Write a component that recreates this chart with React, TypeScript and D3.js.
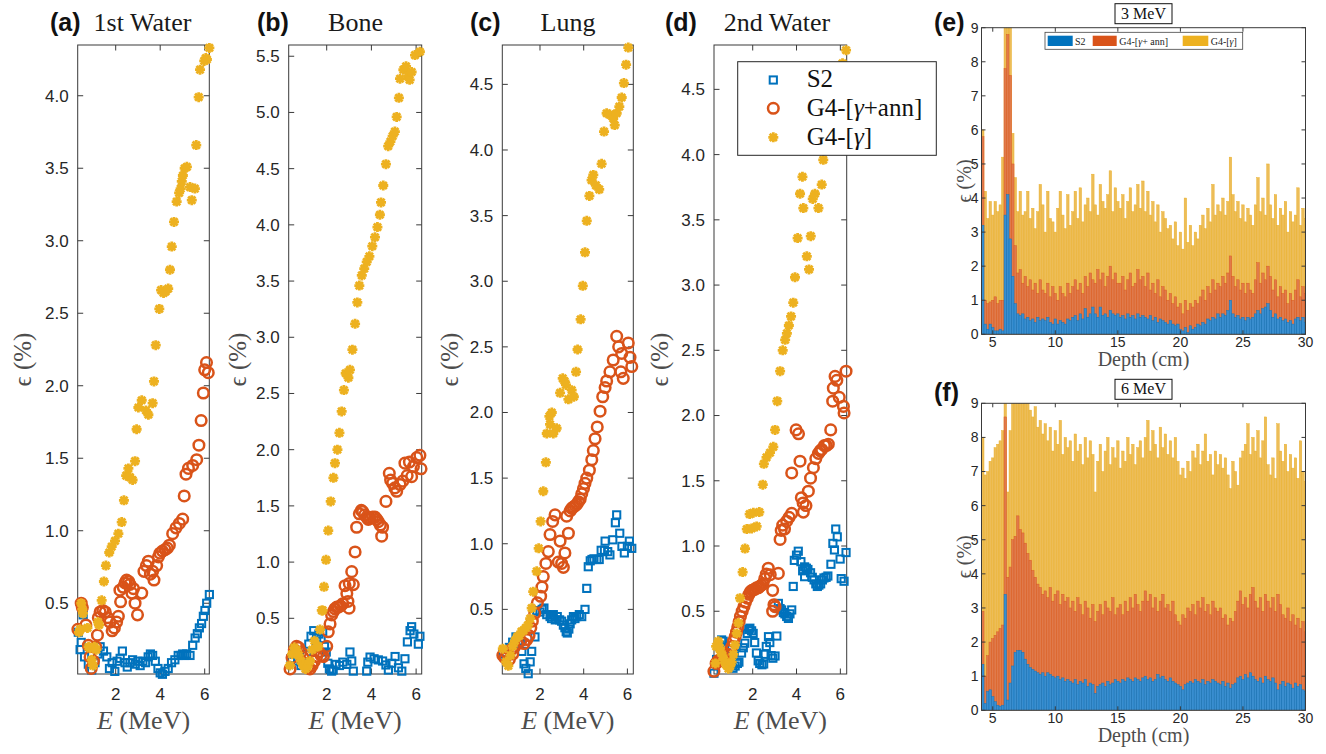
import React from 'react';
import * as d3 from 'd3';

type Pt = [number, number];

// ---------------- scatter data: [E (MeV), epsilon (%)] ----------------
const A_S2: Pt[] = [[0.32,0.30],[0.40,0.18],[0.45,0.23],[0.54,0.42],[0.6,0.13],[0.77,0.08],[0.92,0.04],[1.07,0.09],[1.2,0.15],[1.3,0.20],[1.45,0.17],[1.6,0.13],[1.72,0.05],[1.84,0.09],[1.96,0.03],[2.06,0.10],[2.2,0.12],[2.3,0.17],[2.42,0.09],[2.52,0.06],[2.64,0.09],[2.76,0.11],[2.88,0.08],[3.0,0.10],[3.1,0.07],[3.22,0.10],[3.34,0.09],[3.46,0.13],[3.56,0.15],[3.66,0.14],[3.78,0.10],[3.9,0.05],[4.0,0.02],[4.1,0.01],[4.22,0.03],[4.36,0.05],[4.51,0.09],[4.66,0.11],[4.81,0.14],[4.93,0.14],[5.01,0.15],[5.1,0.14],[5.19,0.15],[5.34,0.14],[5.46,0.21],[5.57,0.26],[5.67,0.29],[5.76,0.33],[5.86,0.36],[5.94,0.41],[6.01,0.45],[6.09,0.50],[6.21,0.56]];
const A_ANN: Pt[] = [[0.30,0.32],[0.45,0.50],[0.50,0.47],[0.66,0.35],[0.77,0.21],[0.85,0.13],[0.90,0.05],[1.0,0.10],[1.1,0.20],[1.18,0.28],[1.22,0.40],[1.3,0.44],[1.42,0.45],[1.53,0.44],[1.64,0.40],[1.74,0.37],[1.84,0.31],[1.94,0.33],[2.04,0.37],[2.12,0.41],[2.22,0.51],[2.19,0.59],[2.34,0.61],[2.42,0.64],[2.49,0.66],[2.58,0.65],[2.64,0.63],[2.73,0.57],[2.80,0.60],[2.87,0.50],[2.98,0.42],[3.17,0.57],[3.27,0.72],[3.38,0.76],[3.47,0.79],[3.56,0.70],[3.66,0.72],[3.72,0.66],[3.84,0.76],[3.92,0.82],[3.99,0.845],[4.1,0.86],[4.22,0.87],[4.32,0.88],[4.41,0.90],[4.56,0.98],[4.71,1.02],[4.86,1.05],[5.01,1.08],[5.08,1.24],[5.16,1.39],[5.27,1.43],[5.46,1.45],[5.64,1.49],[5.74,1.59],[5.84,1.76],[5.94,1.95],[6.0,2.11],[6.08,2.16],[6.16,2.09]];
const A_G: Pt[] = [[0.35,0.30],[0.40,0.32],[0.45,0.50],[0.50,0.46],[0.53,0.43],[0.73,0.33],[0.78,0.20],[0.85,0.19],[0.92,0.11],[0.98,0.07],[1.04,0.20],[1.13,0.18],[1.2,0.37],[1.25,0.35],[1.37,0.52],[1.47,0.65],[1.56,0.76],[1.71,0.85],[1.82,0.89],[1.97,0.93],[2.12,0.98],[2.27,1.06],[2.37,1.21],[2.47,1.38],[2.57,1.43],[2.64,1.37],[2.76,1.35],[2.87,1.48],[2.94,1.70],[3.02,1.85],[3.17,1.90],[3.36,1.83],[3.47,1.80],[3.66,1.88],[3.72,2.03],[3.80,2.28],[3.96,2.53],[4.04,2.66],[4.15,2.64],[4.25,2.65],[4.36,2.67],[4.44,2.80],[4.52,2.96],[4.62,3.13],[4.74,3.27],[4.85,3.33],[4.92,3.36],[4.97,3.41],[5.02,3.45],[5.1,3.50],[5.2,3.51],[5.34,3.37],[5.42,3.28],[5.56,3.36],[5.62,3.66],[5.73,3.99],[5.79,4.18],[5.98,4.24],[6.05,4.26],[6.1,4.25],[6.21,4.33]];

const B_S2: Pt[] = [[0.4,0.14],[0.55,0.18],[0.7,0.12],[0.85,0.08],[1.0,0.1],[1.1,0.18],[1.2,0.27],[1.3,0.34],[1.42,0.39],[1.55,0.33],[1.65,0.36],[1.75,0.32],[1.82,0.38],[1.9,0.25],[1.98,0.2],[2.05,0.1],[2.12,0.05],[2.22,0.03],[2.29,0.04],[2.42,0.09],[2.57,0.08],[2.72,0.11],[2.9,0.09],[3.04,0.20],[3.12,0.12],[3.19,0.03],[3.79,0.03],[3.84,0.11],[3.94,0.155],[4.12,0.14],[4.31,0.13],[4.5,0.12],[4.65,0.085],[4.76,0.04],[4.91,0.10],[5.06,0.16],[5.21,0.06],[5.36,0.03],[5.5,0.14],[5.61,0.29],[5.73,0.39],[5.80,0.425],[5.9,0.36],[6.1,0.27],[6.17,0.34]];
const B_ANN: Pt[] = [[0.36,0.05],[0.45,0.15],[0.55,0.22],[0.65,0.25],[0.75,0.24],[0.85,0.2],[0.95,0.15],[1.05,0.1],[1.15,0.06],[1.25,0.05],[1.35,0.08],[1.45,0.12],[1.55,0.16],[1.65,0.2],[1.75,0.17],[1.85,0.16],[2.0,0.25],[2.07,0.38],[2.15,0.45],[2.22,0.53],[2.3,0.56],[2.37,0.585],[2.45,0.6],[2.52,0.60],[2.62,0.61],[2.72,0.63],[2.82,0.79],[2.9,0.72],[2.95,0.65],[3.0,0.59],[3.01,0.81],[3.12,0.915],[3.19,0.80],[3.27,1.09],[3.34,1.31],[3.46,1.43],[3.55,1.46],[3.61,1.45],[3.7,1.42],[3.79,1.40],[3.86,1.38],[3.94,1.39],[4.05,1.40],[4.16,1.40],[4.24,1.38],[4.31,1.36],[4.4,1.33],[4.46,1.23],[4.5,1.31],[4.65,1.54],[4.8,1.79],[4.86,1.73],[4.95,1.70],[5.05,1.66],[5.13,1.63],[5.28,1.69],[5.4,1.72],[5.5,1.88],[5.6,1.77],[5.7,1.89],[5.80,1.76],[5.88,1.85],[6.03,1.93],[6.17,1.95],[6.22,1.83]];
const B_G: Pt[] = [[0.35,0.08],[0.45,0.18],[0.55,0.24],[0.65,0.22],[0.75,0.17],[0.85,0.12],[0.95,0.08],[1.05,0.05],[1.15,0.07],[1.25,0.12],[1.35,0.22],[1.45,0.30],[1.55,0.25],[1.62,0.25],[1.70,0.40],[1.78,0.57],[1.82,0.57],[1.88,0.78],[1.97,1.02],[2.07,1.28],[2.18,1.54],[2.30,1.75],[2.37,1.88],[2.48,2.0],[2.57,2.15],[2.67,2.34],[2.77,2.53],[2.85,2.68],[2.97,2.64],[3.04,2.71],[3.15,2.89],[3.27,3.12],[3.37,3.31],[3.46,3.46],[3.57,3.55],[3.68,3.61],[3.79,3.67],[3.91,3.72],[4.04,3.81],[4.16,3.89],[4.27,3.98],[4.38,4.09],[4.43,4.20],[4.53,4.35],[4.65,4.54],[4.75,4.70],[4.85,4.74],[4.95,4.79],[5.05,4.83],[5.13,4.96],[5.23,5.13],[5.28,5.30],[5.43,5.38],[5.55,5.41],[5.65,5.32],[5.71,5.29],[5.8,5.36],[5.95,5.51],[6.17,5.54]];

const C_S2: Pt[] = [[0.3,0.16],[0.45,0.17],[0.6,0.21],[0.75,0.25],[0.9,0.29],[1.0,0.24],[1.1,0.26],[1.17,0.18],[1.27,0.085],[1.35,0.05],[1.46,0.01],[1.55,0.10],[1.62,0.18],[1.77,0.29],[1.85,0.49],[2.0,0.48],[2.1,0.50],[2.18,0.51],[2.31,0.46],[2.46,0.445],[2.53,0.43],[2.61,0.46],[2.70,0.42],[2.79,0.445],[2.9,0.42],[2.99,0.41],[3.07,0.38],[3.14,0.36],[3.2,0.33],[3.25,0.32],[3.32,0.35],[3.38,0.39],[3.45,0.42],[3.53,0.445],[3.6,0.43],[3.68,0.445],[3.8,0.46],[3.91,0.445],[4.06,0.50],[4.14,0.66],[4.21,0.825],[4.3,0.87],[4.38,0.88],[4.47,0.885],[4.6,0.88],[4.71,0.88],[4.8,0.95],[4.95,0.95],[4.98,1.02],[5.1,0.94],[5.2,0.915],[5.33,1.03],[5.45,1.16],[5.51,1.22],[5.65,1.08],[5.75,0.98],[5.86,0.93],[6.0,0.98],[6.09,1.02],[6.2,0.965]];
const C_ANN: Pt[] = [[0.3,0.15],[0.4,0.13],[0.51,0.16],[0.6,0.12],[0.66,0.19],[0.75,0.16],[0.82,0.21],[0.97,0.24],[1.12,0.26],[1.27,0.24],[1.4,0.27],[1.5,0.30],[1.58,0.36],[1.65,0.41],[1.76,0.47],[1.88,0.55],[2.03,0.60],[2.09,0.67],[2.15,0.75],[2.27,0.85],[2.38,0.94],[2.46,1.07],[2.58,1.17],[2.69,1.22],[2.84,0.86],[2.92,1.02],[2.99,0.85],[3.07,0.82],[3.14,0.93],[3.22,1.21],[3.30,1.08],[3.38,1.25],[3.45,1.27],[3.53,1.28],[3.61,1.29],[3.68,1.30],[3.76,1.32],[3.84,1.34],[3.91,1.38],[3.99,1.42],[4.06,1.46],[4.14,1.50],[4.26,1.56],[4.37,1.64],[4.44,1.71],[4.52,1.80],[4.62,1.89],[4.75,2.01],[4.87,2.12],[4.98,2.19],[5.05,2.24],[5.2,2.31],[5.35,2.40],[5.51,2.58],[5.6,2.50],[5.7,2.31],[5.74,2.45],[5.81,2.26],[6.04,2.53],[6.12,2.42],[6.2,2.35]];
const C_G: Pt[] = [[0.3,0.20],[0.45,0.10],[0.55,0.07],[0.65,0.15],[0.75,0.22],[0.85,0.26],[0.95,0.29],[1.05,0.30],[1.15,0.33],[1.25,0.34],[1.35,0.36],[1.45,0.38],[1.55,0.43],[1.62,0.51],[1.69,0.635],[1.85,0.79],[1.94,0.965],[2.03,1.17],[2.15,1.40],[2.27,1.62],[2.31,1.84],[2.43,1.97],[2.46,1.91],[2.54,2.0],[2.61,1.84],[2.76,1.88],[2.92,2.15],[3.04,2.26],[3.12,2.24],[3.19,2.21],[3.30,2.10],[3.45,2.17],[3.55,2.12],[3.65,2.31],[3.72,2.48],[3.86,2.71],[3.96,2.965],[4.06,3.22],[4.14,3.46],[4.26,3.65],[4.36,3.77],[4.44,3.81],[4.56,3.73],[4.71,3.70],[4.82,3.895],[4.93,4.14],[5.05,4.28],[5.2,4.27],[5.35,4.24],[5.42,4.19],[5.51,4.28],[5.63,4.33],[5.74,4.40],[5.84,4.51],[5.94,4.65],[6.04,4.78]];

const D_S2: Pt[] = [[0.23,0.025],[0.35,0.13],[0.5,0.24],[0.58,0.28],[0.65,0.27],[0.72,0.22],[0.8,0.18],[0.88,0.15],[0.95,0.13],[1.02,0.09],[1.1,0.063],[1.2,0.08],[1.3,0.10],[1.37,0.11],[1.49,0.18],[1.57,0.22],[1.64,0.255],[1.75,0.33],[1.82,0.36],[1.87,0.37],[1.95,0.35],[2.02,0.33],[2.09,0.26],[2.17,0.18],[2.25,0.12],[2.32,0.10],[2.42,0.09],[2.5,0.096],[2.57,0.17],[2.62,0.23],[2.72,0.305],[2.78,0.26],[2.84,0.16],[2.92,0.14],[3.02,0.157],[3.1,0.31],[3.17,0.56],[3.25,0.52],[3.32,0.51],[3.4,0.49],[3.47,0.48],[3.55,0.46],[3.63,0.445],[3.7,0.48],[3.78,0.51],[3.85,0.69],[3.9,0.89],[4.0,0.93],[4.08,0.96],[4.2,0.88],[4.28,0.81],[4.37,0.765],[4.37,0.84],[4.45,0.83],[4.52,0.82],[4.64,0.795],[4.72,0.76],[4.8,0.74],[4.88,0.71],[4.95,0.69],[5.02,0.70],[5.1,0.71],[5.18,0.74],[5.25,0.755],[5.35,0.76],[5.43,0.77],[5.57,0.86],[5.66,1.02],[5.73,0.97],[5.79,1.13],[5.86,1.07],[5.99,0.90],[6.04,0.75],[6.17,0.73],[6.26,0.95]];
const D_ANN: Pt[] = [[0.23,0.04],[0.33,0.10],[0.41,0.12],[0.49,0.126],[0.58,0.14],[0.67,0.15],[0.76,0.16],[0.85,0.17],[0.95,0.20],[1.05,0.23],[1.12,0.27],[1.2,0.305],[1.26,0.34],[1.32,0.38],[1.38,0.42],[1.44,0.46],[1.52,0.50],[1.60,0.535],[1.67,0.57],[1.75,0.60],[1.83,0.63],[1.90,0.65],[1.97,0.66],[2.05,0.665],[2.11,0.67],[2.17,0.68],[2.25,0.68],[2.32,0.69],[2.40,0.70],[2.47,0.71],[2.55,0.75],[2.62,0.785],[2.71,0.83],[2.80,0.78],[2.91,0.66],[2.91,0.50],[2.97,0.55],[3.02,0.535],[3.17,0.79],[3.25,1.05],[3.30,1.12],[3.37,1.16],[3.45,1.13],[3.55,1.19],[3.66,1.22],[3.78,1.25],[3.78,1.56],[3.98,1.89],[4.09,1.86],[4.16,1.65],[4.22,1.37],[4.3,1.33],[4.31,1.26],[4.43,1.31],[4.54,1.42],[4.64,1.52],[4.77,1.60],[4.88,1.67],[5.0,1.71],[5.08,1.73],[5.15,1.74],[5.27,1.77],[5.36,1.77],[5.45,1.78],[5.56,1.89],[5.65,2.11],[5.68,2.21],[5.76,2.30],[5.84,2.27],[5.95,2.14],[6.14,2.07],[6.17,2.02],[6.26,2.34]];
const D_G: Pt[] = [[0.3,0.10],[0.33,0.23],[0.43,0.27],[0.5,0.22],[0.54,0.19],[0.62,0.16],[0.69,0.126],[0.78,0.09],[0.89,0.06],[0.97,0.08],[1.04,0.11],[1.12,0.17],[1.19,0.24],[1.27,0.33],[1.35,0.41],[1.42,0.60],[1.54,0.80],[1.65,0.98],[1.73,1.13],[1.86,1.245],[1.95,1.135],[2.03,1.255],[2.18,1.15],[2.30,1.26],[2.46,1.47],[2.51,1.63],[2.63,1.68],[2.79,1.715],[2.94,1.76],[3.02,1.89],[3.12,2.11],[3.25,2.34],[3.37,2.50],[3.48,2.58],[3.56,2.63],[3.65,2.69],[3.75,2.76],[3.85,2.865],[3.93,3.06],[4.05,3.36],[4.16,3.70],[4.27,3.83],[4.31,3.59],[4.47,3.22],[4.57,3.12],[4.65,3.375],[4.74,3.66],[4.84,3.70],[5.0,3.59],[5.15,3.77],[5.22,3.96],[5.4,4.1],[5.6,4.3],[5.8,4.45],[6.0,4.6],[6.1,4.7],[6.26,4.80]];

const E_TICKS = [2, 4, 6];

// ---------------- bar data: epsilon (%) per 0.2 cm depth bin, 4.2 ... 30.0 cm ----------------
const DEPTH = d3.range(130).map((i) => +(4.2 + 0.2 * i).toFixed(1));
const DEPTH_TICKS = [5, 10, 15, 20, 25, 30];
const EPS_TICKS = [0, 1, 2, 3, 4, 5, 6, 7, 8, 9];

const MEV3_S2 = [3.2,0.3,0.15,0.3,0.2,0.1,0.1,0.15,0.1,3.5,4.1,2.8,1.7,0.9,0.6,
  0.55,0.6,0.45,0.5,0.4,0.45,0.35,0.5,0.4,0.45,
  0.4,0.5,0.35,0.3,0.45,0.3,0.4,0.35,0.3,0.45,
  0.4,0.5,0.55,0.4,0.6,0.45,0.75,0.5,0.6,0.8,
  0.6,0.5,0.8,0.55,0.6,0.5,0.7,0.6,0.55,0.6,
  0.5,0.55,0.45,0.6,0.5,0.55,0.45,0.6,0.5,0.55,
  0.5,0.45,0.55,0.4,0.5,0.35,0.45,0.4,0.35,0.3,
  0.4,0.3,0.25,0.3,0.15,0.1,0.2,0.05,0.25,0.15,
  0.2,0.3,0.25,0.35,0.3,0.45,0.4,0.5,0.45,0.6,
  0.5,0.6,0.55,0.7,1.0,0.6,0.5,0.55,0.45,0.5,
  0.4,0.5,0.45,0.5,0.6,0.7,0.6,0.75,0.8,0.9,
  0.7,0.5,0.6,0.45,0.5,0.4,0.45,0.35,0.4,0.3,
  0.45,0.5,0.4,0.5,0.35];
const MEV3_ANN = [5.8,1.0,0.9,0.95,1.0,1.1,0.9,1.0,1.0,7.8,8.8,7.6,5.0,2.6,1.8,
  1.9,1.5,1.7,1.4,1.6,1.3,1.5,1.2,1.6,1.3,
  1.2,1.5,1.1,1.4,1.2,1.0,1.4,1.2,1.1,1.5,
  1.2,1.4,1.6,1.3,1.5,1.2,1.7,1.4,1.8,1.6,
  1.5,1.9,1.6,1.8,1.4,1.7,2.0,1.6,1.8,1.5,
  1.5,1.7,1.3,1.6,1.8,1.4,1.5,1.9,1.6,1.7,
  1.4,1.8,1.3,1.5,1.2,1.6,1.1,1.4,1.3,1.0,
  1.2,0.9,1.1,0.8,0.9,0.6,1.0,0.7,0.9,0.8,
  1.0,0.9,1.1,1.3,1.0,1.4,1.2,1.6,1.3,1.5,
  1.4,1.7,1.5,1.8,2.3,1.7,1.4,1.6,1.3,1.5,
  1.2,1.5,1.3,1.2,1.6,2.1,1.5,1.8,1.6,2.0,
  1.7,1.3,1.6,1.1,1.4,1.2,1.3,0.9,1.2,1.0,
  1.3,1.6,1.1,1.4,1.2];
const MEV3_G = [6.0,4.2,3.4,3.9,3.5,3.9,3.6,3.8,5.2,9.5,9.5,9.5,5.9,4.6,3.6,
  4.2,3.5,3.6,4.2,3.4,3.7,3.1,3.6,4.4,3.8,
  3.0,4.2,3.4,3.3,3.0,3.7,4.2,3.5,3.1,4.1,
  3.2,3.6,4.2,3.4,4.3,3.3,3.8,4.0,3.6,4.7,
  3.8,3.5,4.4,3.9,3.7,4.1,4.8,3.6,4.3,3.9,
  3.7,4.1,3.4,3.9,4.3,3.6,3.8,4.4,3.7,4.5,
  3.6,4.2,3.5,3.9,3.3,3.8,3.0,3.6,3.4,3.1,
  3.2,2.8,3.3,2.6,3.0,2.5,4.0,2.7,3.2,2.6,
  3.0,2.8,3.2,3.5,3.1,3.7,3.3,4.4,3.5,3.8,
  3.6,4.0,3.5,3.9,5.2,4.1,3.6,3.9,3.4,3.8,
  3.3,3.7,3.5,3.2,3.8,4.6,3.6,4.0,3.5,5.0,
  3.8,3.4,4.1,3.2,3.7,3.5,3.9,3.0,3.6,3.3,
  3.5,4.3,3.2,3.7,3.4];

const MEV6_S2 = [1.35,0.2,0.55,0.6,0.4,0.25,0.15,0.12,0.15,3.4,0.3,0.8,1.3,1.7,1.75,
  1.75,1.7,1.5,1.35,1.25,1.2,1.15,1.1,1.05,1.1,
  1.0,1.1,1.05,1.0,0.95,1.0,0.9,0.95,0.85,0.9,
  0.85,0.8,0.9,0.75,0.85,0.8,0.9,0.7,0.8,0.75,
  0.5,0.7,0.75,0.8,0.7,0.85,0.75,0.8,0.9,0.85,
  0.8,0.9,0.85,0.95,0.9,0.85,0.95,0.9,0.85,0.95,
  1.0,0.9,0.95,0.85,0.9,1.05,0.95,1.0,0.9,0.85,
  0.95,0.85,0.8,0.75,0.7,0.6,0.75,0.8,0.85,0.8,
  0.9,0.85,0.8,0.9,0.75,0.85,0.8,0.9,0.85,0.8,
  0.75,0.85,0.7,0.8,0.65,0.75,0.8,0.95,1.0,0.9,
  1.05,0.95,1.1,1.0,0.9,0.85,0.95,0.8,1.0,0.9,
  0.85,0.95,0.8,0.6,0.75,0.85,0.7,0.8,0.75,0.65,
  0.8,0.7,0.75,0.6,0.55];
const MEV6_ANN = [2.9,1.0,1.6,2.0,2.1,2.2,2.3,2.4,2.5,8.6,3.9,4.2,5.0,5.1,5.7,
  5.3,5.2,4.9,4.6,4.4,4.1,3.9,3.7,3.6,3.4,
  3.5,3.3,3.6,3.2,3.4,3.5,3.1,3.4,3.2,3.3,
  3.0,3.2,2.9,3.3,3.1,2.8,3.2,3.0,2.7,3.1,
  2.6,2.9,3.1,2.8,3.2,3.0,2.9,3.3,2.8,3.0,
  3.1,2.8,3.2,2.9,3.3,3.0,3.4,3.1,2.9,3.2,
  3.5,3.2,3.4,3.0,3.3,2.9,3.2,3.4,3.0,3.1,
  2.9,3.2,2.8,2.6,2.5,2.8,2.7,3.0,2.9,3.1,
  2.8,3.2,3.0,3.3,2.9,3.1,2.8,3.2,3.0,2.9,
  3.0,2.7,2.8,2.5,2.7,2.6,2.9,3.2,3.5,3.1,
  3.3,3.0,3.4,3.6,3.2,3.0,3.3,2.9,3.4,3.2,
  3.0,3.3,2.9,3.4,3.1,2.8,2.7,3.0,2.6,2.8,
  2.5,2.7,2.4,2.6,2.3];
const MEV6_G = [8.0,6.9,7.0,7.3,7.4,7.7,7.8,7.9,8.2,9.2,6.4,8.2,9.5,9.5,9.5,
  9.5,9.5,9.5,9.2,8.8,8.6,8.9,8.3,8.5,8.1,
  8.4,7.9,8.3,7.6,8.2,7.8,8.5,7.5,8.0,7.7,
  7.9,7.3,8.1,7.6,7.8,7.2,8.0,7.4,7.9,7.5,
  6.4,7.3,7.8,7.0,7.6,8.0,7.2,7.7,7.4,7.9,
  7.1,7.6,7.3,8.0,7.5,7.8,7.2,7.7,7.9,7.4,
  8.0,8.5,7.6,8.2,7.8,7.4,8.3,7.7,8.1,7.5,
  7.9,7.4,8.0,7.3,6.9,7.1,6.8,7.3,7.0,7.6,
  7.4,7.8,7.2,7.6,8.1,7.3,7.5,6.9,7.6,7.2,
  7.5,7.1,7.4,6.9,6.5,7.3,7.0,6.6,7.4,7.6,
  7.8,8.4,7.5,8.0,7.6,8.2,7.4,7.9,8.6,7.2,
  6.9,7.4,6.8,8.4,7.6,7.3,7.8,7.0,7.5,7.1,
  7.4,6.8,7.9,7.0,6.7];

// ---------------- styling ----------------
const SANS = "'Liberation Sans', Arial, Helvetica, sans-serif";
const SERIF = "'Liberation Serif', 'Times New Roman', 'DejaVu Serif', serif";
const BLUE = '#0072BD';
const ORANGE = '#D95319';
const YELLOW = '#EDB120';
const AXIS = '#3a3a3a';
const TICKTXT = '#262626';
const LABEL = '#4d4d4d';

function starPath(cx: number, cy: number, r: number) {
  const d = r * 0.72;
  return `M${cx - r},${cy}H${cx + r}M${cx},${cy - r}V${cy + r}` +
    `M${cx - d},${cy - d}L${cx + d},${cy + d}M${cx - d},${cy + d}L${cx + d},${cy - d}`;
}

type ScatterCfg = {
  l: number; r: number; t: number; b: number;
  xd: [number, number]; yd: [number, number];
  tag: string; title: string; tagX: number; titleX: number; yLabX: number;
  s2: Pt[]; ann: Pt[]; gam: Pt[];
};

function ScatterPanel({ c }: { c: ScatterCfg }) {
  const x = d3.scaleLinear().domain(c.xd).range([c.l, c.r]);
  const y = d3.scaleLinear().domain(c.yd).range([c.b, c.t]);
  const yt = d3.range(0.5, c.yd[1], 0.5);
  const fmt = d3.format('.1f');
  const tl = 5.5;
  return (
    <g>
      <text x={c.tagX} y={31} fontFamily={SANS} fontWeight="bold" fontSize={25} fill="#111">{c.tag}</text>
      <text x={c.titleX} y={31} fontFamily={SERIF} fontSize={26} fill="#1a1a1a" textAnchor="middle">{c.title}</text>
      <rect x={c.l} y={c.t} width={c.r - c.l} height={c.b - c.t} fill="white" stroke={AXIS} strokeWidth={1} />
      {E_TICKS.map((v) => (
        <g key={'x' + v}>
          <line x1={x(v)} x2={x(v)} y1={c.b} y2={c.b - tl} stroke={AXIS} />
          <line x1={x(v)} x2={x(v)} y1={c.t} y2={c.t + tl} stroke={AXIS} />
          <text x={x(v)} y={c.b + 26} textAnchor="middle" fontFamily={SANS} fontSize={17} fill={TICKTXT}>{v}</text>
        </g>
      ))}
      {yt.map((v) => (
        <g key={'y' + v}>
          <line x1={c.l} x2={c.l + tl} y1={y(v)} y2={y(v)} stroke={AXIS} />
          <line x1={c.r} x2={c.r - tl} y1={y(v)} y2={y(v)} stroke={AXIS} />
          <text x={c.l - 9} y={y(v)} dy="0.35em" textAnchor="end" fontFamily={SANS} fontSize={17} fill={TICKTXT}>{fmt(v)}</text>
        </g>
      ))}
      <text x={(c.l + c.r) / 2} y={729} textAnchor="middle" fontFamily={SERIF} fontSize={26} fill={LABEL}>
        <tspan fontStyle="italic">E</tspan> (MeV)
      </text>
      <text transform={`translate(${c.yLabX},${(c.t + c.b) / 2}) rotate(-90)`} textAnchor="middle" fontFamily={SERIF} fontSize={25} fill={LABEL}>ϵ (%)</text>
      <g>
        {c.s2.map((p, i) => (
          <rect key={'s' + i} x={x(p[0]) - 3.6} y={y(p[1]) - 3.6} width={7.2} height={7.2} fill="none" stroke={BLUE} strokeWidth={2} />
        ))}
        {c.ann.map((p, i) => (
          <circle key={'o' + i} cx={x(p[0])} cy={y(p[1])} r={5.3} fill="none" stroke={ORANGE} strokeWidth={2.5} />
        ))}
        {c.gam.map((p, i) => (
          <path key={'g' + i} d={starPath(x(p[0]), y(p[1]), 5)} fill="none" stroke={YELLOW} strokeWidth={2.8} />
        ))}
      </g>
    </g>
  );
}

type BarCfg = {
  id: string; l: number; r: number; t: number; b: number;
  tag: string; tagY: number; title: string; legend: boolean;
  s2: number[]; ann: number[]; gam: number[];
};

const BAR_SERIES = [
  { key: 'gam', face: '#EDBD58', edge: '#E9AE25' },
  { key: 'ann', face: '#E07A4B', edge: '#D9581F' },
  { key: 's2', face: '#3A8ECF', edge: '#0B74BE' },
];

function BarPanel({ c }: { c: BarCfg }) {
  const x = d3.scaleLinear().domain([4.1, 30]).range([c.l, c.r]);
  const y = d3.scaleLinear().domain([0, 9]).range([c.b, c.t]);
  const half = 0.1;
  const tl = 4;
  const data: Record<string, number[]> = { s2: c.s2, ann: c.ann, gam: c.gam };
  const cx = (c.l + c.r) / 2;
  return (
    <g>
      <defs>
        <clipPath id={'clip' + c.id}>
          <rect x={c.l} y={c.t} width={c.r - c.l} height={c.b - c.t} />
        </clipPath>
      </defs>
      <text x={934} y={c.tagY} fontFamily={SANS} fontWeight="bold" fontSize={25} fill="#111">{c.tag}</text>
      <rect x={cx - 28.5} y={c.t - 24} width={57} height={20} fill="white" stroke="#111" strokeWidth={1} />
      <text x={cx} y={c.t - 9} textAnchor="middle" fontFamily={SERIF} fontSize={16} fill="#111">{c.title}</text>
      <rect x={c.l} y={c.t} width={c.r - c.l} height={c.b - c.t} fill="white" />
      <g clipPath={`url(#clip${c.id})`}>
        {BAR_SERIES.map((s) => (
          <g key={s.key}>
            {data[s.key].map((v, i) => {
              const x0 = x(DEPTH[i] - half);
              const x1 = x(DEPTH[i] + half);
              return (
                <rect key={i} x={x0} y={y(v)} width={x1 - x0} height={y(0) - y(v)}
                  fill={s.face} stroke={s.edge} strokeWidth={0.45} />
              );
            })}
          </g>
        ))}
      </g>
      <rect x={c.l} y={c.t} width={c.r - c.l} height={c.b - c.t} fill="none" stroke={AXIS} strokeWidth={1} />
      {DEPTH_TICKS.map((v) => (
        <g key={'x' + v}>
          <line x1={x(v)} x2={x(v)} y1={c.b} y2={c.b - tl} stroke={AXIS} />
          <line x1={x(v)} x2={x(v)} y1={c.t} y2={c.t + tl} stroke={AXIS} />
          <text x={x(v)} y={c.b + 13} textAnchor="middle" fontFamily={SANS} fontSize={14} fill={TICKTXT}>{v}</text>
        </g>
      ))}
      {EPS_TICKS.map((v) => (
        <g key={'y' + v}>
          <line x1={c.l} x2={c.l + tl} y1={y(v)} y2={y(v)} stroke={AXIS} />
          <line x1={c.r} x2={c.r - tl} y1={y(v)} y2={y(v)} stroke={AXIS} />
          <text x={c.l - 3} y={y(v)} dy="0.35em" textAnchor="end" fontFamily={SANS} fontSize={14} fill={TICKTXT}>{v}</text>
        </g>
      ))}
      <text x={cx} y={c.b + 32} textAnchor="middle" fontFamily={SERIF} fontSize={20} fill={LABEL}>Depth (cm)</text>
      <text transform={`translate(${971},${(c.t + c.b) / 2}) rotate(-90)`} textAnchor="middle" fontFamily={SERIF} fontSize={20} fill={LABEL}>ϵ (%)</text>
      {c.legend && (
        <g fontFamily={SERIF} fontSize={10} fill="#222">
          <rect x={1045} y={c.t + 4.6} width={197.7} height={17} fill="white" stroke="#444" strokeWidth={0.8} />
          <rect x={1047.7} y={c.t + 8} width={25} height={10.3} fill={BLUE} />
          <text x={1075} y={c.t + 16.8}>S2</text>
          <rect x={1092.7} y={c.t + 8} width={24} height={10.3} fill={ORANGE} />
          <text x={1119.3} y={c.t + 16.8}>G4-[<tspan fontStyle="italic">γ</tspan>+ ann]</text>
          <rect x={1182.7} y={c.t + 8} width={25.6} height={10.3} fill={YELLOW} />
          <text x={1210.7} y={c.t + 16.8}>G4-[<tspan fontStyle="italic">γ</tspan>]</text>
        </g>
      )}
    </g>
  );
}

const SCATTERS: ScatterCfg[] = [
  { l: 77.7, r: 209.3, t: 45, b: 674, xd: [0.292, 6.207], yd: [0.012, 4.35], tag: '(a)', title: '1st Water', tagX: 50, titleX: 142.5, yLabX: 31, s2: A_S2, ann: A_ANN, gam: A_G },
  { l: 288.7, r: 421.7, t: 45, b: 674, xd: [0.30, 6.25], yd: [0.0045, 5.60], tag: '(b)', title: 'Bone', tagX: 257, titleX: 355.5, yLabX: 246, s2: B_S2, ann: B_ANN, gam: B_G },
  { l: 502.3, r: 633.3, t: 45, b: 674, xd: [0.275, 6.27], yd: [0.0076, 4.80], tag: '(c)', title: 'Lung', tagX: 470, titleX: 568, yLabX: 458, s2: C_S2, ann: C_ANN, gam: C_G },
  { l: 714, r: 846.7, t: 45, b: 674, xd: [0.233, 6.29], yd: [0.019, 4.84], tag: '(d)', title: '2nd Water', tagX: 665, titleX: 777, yLabX: 668, s2: D_S2, ann: D_ANN, gam: D_G },
];

const BARS: BarCfg[] = [
  { id: 'e', l: 981.5, r: 1305.5, t: 27.7, b: 334.3, tag: '(e)', tagY: 31, title: '3 MeV', legend: true, s2: MEV3_S2, ann: MEV3_ANN, gam: MEV3_G },
  { id: 'f', l: 981.5, r: 1305.5, t: 403.3, b: 710.3, tag: '(f)', tagY: 401, title: '6 MeV', legend: false, s2: MEV6_S2, ann: MEV6_ANN, gam: MEV6_G },
];

function MainLegend() {
  const mx = 773.3;
  return (
    <g>
      <rect x={737.7} y={61.7} width={198.6} height={93.6} fill="white" stroke="#262626" strokeWidth={1} />
      <rect x={mx - 3.6} y={80 - 3.6} width={7.2} height={7.2} fill="none" stroke={BLUE} strokeWidth={2} />
      <circle cx={mx} cy={108.3} r={5.3} fill="none" stroke={ORANGE} strokeWidth={2.5} />
      <path d={starPath(mx, 137.3, 5)} fill="none" stroke={YELLOW} strokeWidth={2.8} />
      <g fontFamily={SERIF} fontSize={25} fill="#111">
        <text x={806.7} y={87}>S2</text>
        <text x={806.7} y={116}>G4-[<tspan fontStyle="italic">γ</tspan>+ann]</text>
        <text x={806.7} y={145}>G4-[<tspan fontStyle="italic">γ</tspan>]</text>
      </g>
    </g>
  );
}

export default function App() {
  return (
    <svg width={1326} height={754} viewBox="0 0 1326 754" style={{ position: 'absolute', left: 0, top: 0, background: 'white' }}>
      <rect x={0} y={0} width={1326} height={754} fill="white" />
      {SCATTERS.map((c) => <ScatterPanel key={c.tag} c={c} />)}
      <MainLegend />
      {BARS.map((c) => <BarPanel key={c.id} c={c} />)}
    </svg>
  );
}
